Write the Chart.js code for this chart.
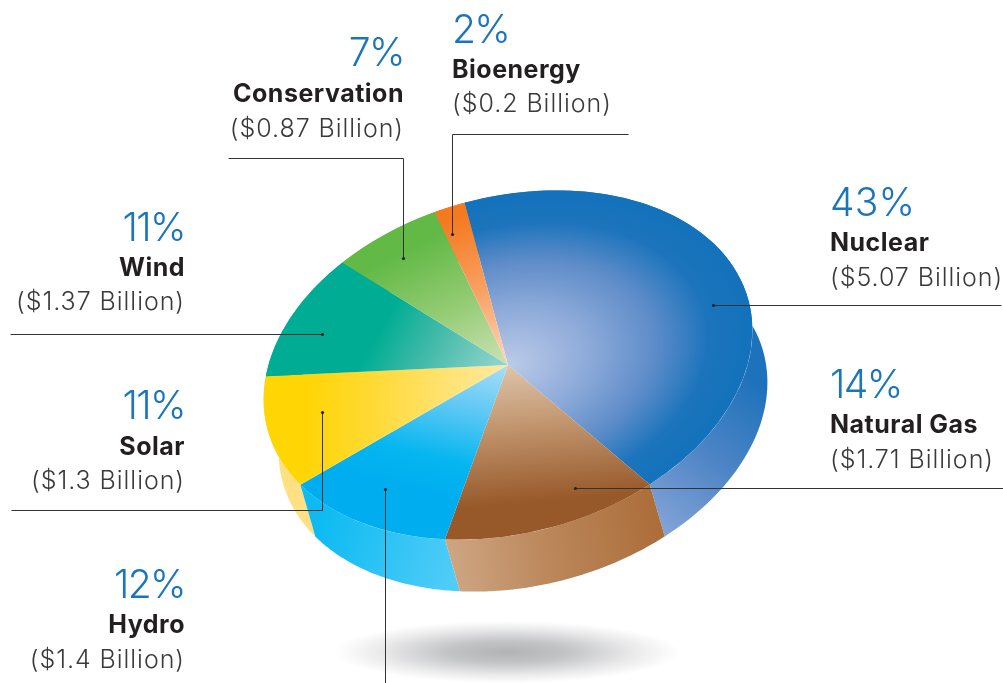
<!DOCTYPE html>
<html><head><meta charset="utf-8">
<style>
html,body{margin:0;padding:0;background:#fff;overflow:hidden}
#wrap{position:relative;width:1003px;height:683px}
canvas{position:absolute;left:0;top:0}
svg{position:absolute;left:0;top:0}
text{font-family:Inter,"Open Sans",sans-serif}
.pct{font-size:39px;font-weight:300;fill:#1b75bc;letter-spacing:-1.6px}
.nm{font-size:25px;font-weight:700;fill:#231f20;letter-spacing:.5px}
.amt{font-size:25px;font-weight:300;fill:#3a3a3c;letter-spacing:.95px}
</style>
<script src="https://cdn.jsdelivr.net/npm/chart.js@4"></script>
</head><body><div id="wrap"><canvas id="c" width="1003" height="683"></canvas>
<svg id="s" width="1003" height="683" xmlns="http://www.w3.org/2000/svg"></svg></div>
<script>
// Data
const categories=["Nuclear","Natural Gas","Hydro","Solar","Wind","Conservation","Bioenergy"];
const percents=[43,14,12,11,11,7,2];
const amounts=["$5.07","$1.71","$1.4","$1.3","$1.37","$0.87","$0.2"];

// Layout of the tilted disc (style only)
const centre={x:508,y:365},semi={a:249,b:168},tilt=-15*Math.PI/180,depth={x:15,y:52};
const shadow={x:507,y:652,rx:172,ry:31};

// Label anchors: x, anchor, baselines of percent/name/amount
const anchors=[
 [830,"start",216,251,286],[830,"start",398,433,468],[185,"end",598,633,668],
 [185,"end",419,455,489],[185,"end",241,276,310],[404,"end",66,102,137],[452,"start",43,78,112]];
// Leader polylines
const leaders=[
 [[1001,305],[713,305]],[[1003,488],[575,488]],[[385,683],[385,489]],
 [[11,510],[322,510],[322,412]],[[10,334],[322,334]],
 [[228,158],[403,158],[403,258]],[[628,134],[452,134],[452,234]]];

const ux=Math.cos(tilt),uy=Math.sin(tilt),vx=-Math.sin(tilt),vy=Math.cos(tilt);
function matrix(chart){
  const ca=chart.chartArea,cx=(ca.left+ca.right)/2,cy=(ca.top+ca.bottom)/2,R=Math.min(ca.right-ca.left,ca.bottom-ca.top)/2;
  const A=semi.a*ux/R,B=semi.a*uy/R,C=semi.b*vx/R,D=semi.b*vy/R;
  return {A,B,C,D,E:centre.x-A*cx-C*cy,F:centre.y-B*cx-D*cy,cx,cy,R};
}
function toChart(m,sx,sy){
  const det=m.A*m.D-m.B*m.C,dx=sx-m.E,dy=sy-m.F;
  return [(m.D*dx-m.C*dy)/det,(-m.B*dx+m.A*dy)/det];
}
function linear(chart,x0,y0,x1,y1,stops){
  const m=matrix(chart),p=toChart(m,x0,y0),q=toChart(m,x1,y1);
  const g=chart.ctx.createLinearGradient(p[0],p[1],q[0],q[1]);
  stops.forEach(s=>g.addColorStop(s[0],s[1]));return g;
}
const topFills=[
 c=>{const m=matrix(c),g=c.ctx.createRadialGradient(m.cx,m.cy,0,m.cx,m.cy,m.R);
     g.addColorStop(0,"#bccbe9");g.addColorStop(.35,"#8aa8d8");g.addColorStop(.6,"#5e8cc9");g.addColorStop(.82,"#1c74bc");g.addColorStop(1,"#1272bb");return g;},
 c=>linear(c,512,368,495,520,[[0,"#dcc2a8"],[.35,"#c49a74"],[.9,"#98592a"],[1,"#98592a"]]),
 c=>linear(c,507,365,420,490,[[0,"#a8dff9"],[.35,"#62c9f4"],[.75,"#05b6f0"],[1,"#00aeef"]]),
 c=>linear(c,305,400,505,375,[[0,"#ffd504"],[.3,"#ffd92e"],[1,"#ffe9a3"]]),
 c=>linear(c,375,340,505,360,[[0,"#00ad94"],[.4,"#3fb9a8"],[1,"#93d4cb"]]),
 c=>linear(c,415,245,505,360,[[0,"#62b946"],[.5,"#92cb72"],[1,"#c8e0b0"]]),
 c=>linear(c,450,220,505,358,[[0,"#f47a20"],[.5,"#f99f60"],[1,"#fdd3b2"]])
];
const wallFills=[
 c=>{const g=c.ctx.createLinearGradient(768,390,660,535);g.addColorStop(0,"#1d72bb");g.addColorStop(.5,"#4f85c6");g.addColorStop(1,"#85a5d8");return g;},
 c=>{const g=c.ctx.createLinearGradient(668,540,450,570);g.addColorStop(0,"#ab6c38");g.addColorStop(.55,"#bb875b");g.addColorStop(1,"#cea683");return g;},
 c=>{const g=c.ctx.createLinearGradient(315,540,460,590);g.addColorStop(0,"#0dbbf2");g.addColorStop(1,"#55cdf8");return g;},
 c=>"#ffe083",c=>"#00ad94",c=>"#62b946",c=>"#f47a20"
];

const discPlugin={id:"disc",
 beforeDatasetsDraw(chart){
  const ctx=chart.ctx,m=matrix(chart),arcs=chart.getDatasetMeta(0).data;
  // floating shadow
  ctx.save();ctx.translate(shadow.x,shadow.y);ctx.scale(1,shadow.ry/shadow.rx);
  const sg=ctx.createRadialGradient(0,0,0,0,0,shadow.rx);
  sg.addColorStop(0,"#b1b3b5");sg.addColorStop(.35,"#c3c4c6");sg.addColorStop(.75,"#ebebec");sg.addColorStop(1,"#ffffff");
  ctx.fillStyle=sg;ctx.beginPath();ctx.arc(0,0,shadow.rx,0,Math.PI*2);ctx.fill();ctx.restore();
  // extruded side walls, back to front
  const pt=(a)=>{const x=m.cx+m.R*Math.cos(a),y=m.cy+m.R*Math.sin(a);return [m.A*x+m.C*y+m.E,m.B*x+m.D*y+m.F];};
  [5,6,4,3,0,2,1].forEach(i=>{
    const arc=arcs[i],s=arc.startAngle,e=arc.endAngle,n=80;
    ctx.beginPath();
    for(let k=0;k<=n;k++){const p=pt(s+(e-s)*k/n);k?ctx.lineTo(p[0],p[1]):ctx.moveTo(p[0],p[1]);}
    for(let k=n;k>=0;k--){const p=pt(s+(e-s)*k/n);ctx.lineTo(p[0]+depth.x,p[1]+depth.y);}
    ctx.closePath();ctx.fillStyle=wallFills[i](chart);ctx.fill();
  });
  // tilt the top face
  ctx.save();ctx.transform(m.A,m.B,m.C,m.D,m.E,m.F);
 },
 afterDatasetsDraw(chart){chart.ctx.restore();}
};

new Chart(document.getElementById("c"),{
 type:"pie",
 data:{labels:categories,datasets:[{data:percents,clip:false,borderWidth:0,
   backgroundColor:(ctx)=>ctx.chart.chartArea?topFills[ctx.dataIndex](ctx.chart):"#999"}]},
 options:{responsive:false,animation:false,events:[],
   layout:{padding:0},
   plugins:{legend:{display:false},tooltip:{enabled:false}}},
 plugins:[discPlugin]
});

// Labels and leaders as real text / vector overlay
const svg=document.getElementById("s"),NS="http://www.w3.org/2000/svg";
function el(n,a,t){const e=document.createElementNS(NS,n);for(const k in a)e.setAttribute(k,a[k]);if(t)e.textContent=t;svg.appendChild(e);return e;}
leaders.forEach(l=>{
  el("polyline",{points:l.map(p=>(p[0]+.5)+","+(p[1]+.5)).join(" "),fill:"none",stroke:"#333",'stroke-width':1});
  const d=l[l.length-1];el("circle",{cx:d[0]+.5,cy:d[1]+.5,r:1.6,fill:"#222"});
});
categories.forEach((n,i)=>{
  const a=anchors[i];
  const t=el("text",{x:a[0],y:a[2],'text-anchor':a[1],class:"pct"},percents[i]+"%");
  if(percents[i]===43)t.style.letterSpacing="0.2px";
  el("text",{x:a[0],y:a[3],'text-anchor':a[1],class:"nm"},n);
  el("text",{x:a[0],y:a[4],'text-anchor':a[1],class:"amt"},"("+amounts[i]+" Billion)");
});
</script></body></html>
